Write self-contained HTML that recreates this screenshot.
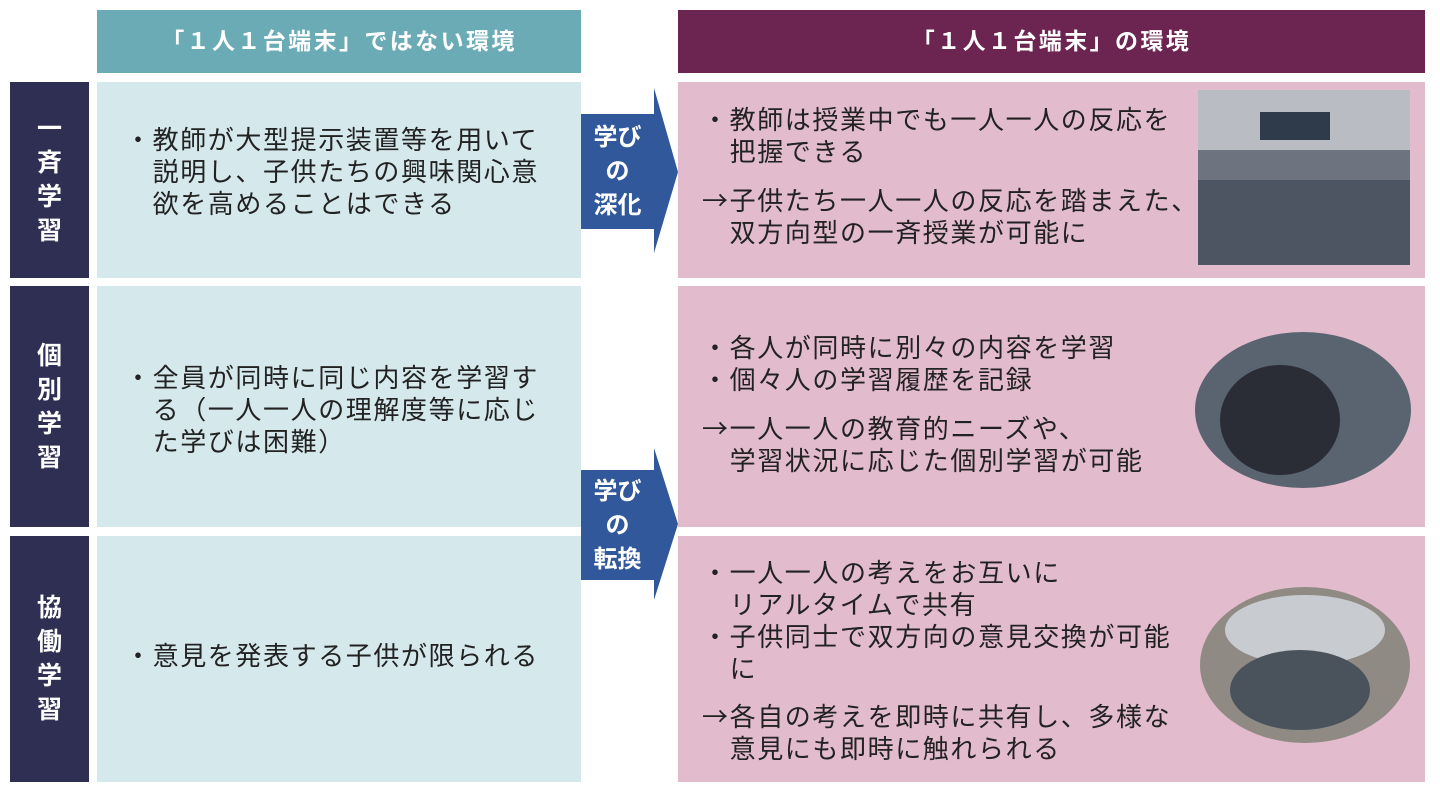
<!DOCTYPE html>
<html><head><meta charset="utf-8"><style>
body{margin:0;width:1440px;height:800px;background:#fff;position:relative;overflow:hidden;font-family:"Liberation Sans","Noto Sans CJK JP",sans-serif;}
div{position:absolute;box-sizing:border-box}
.hd{color:#fff;font-weight:bold;font-size:23px;letter-spacing:2.4px;text-align:center;line-height:63px;top:10px;height:63px}
.lab{left:10px;width:79px;background:#2e2f52;color:#fff;font-weight:bold;font-size:25px;line-height:34px;text-align:center;display:flex;align-items:center;justify-content:center}
.lb{left:97px;width:484px;background:#d5e8ec}
.pk{left:678px;width:747px;background:#e2bbcd}
.t{font-size:26px;letter-spacing:1.6px;line-height:32px;color:#222;white-space:nowrap}
.a{font-family:"Noto Sans CJK JP",sans-serif}
.ar{color:#fff;font-weight:bold;font-size:24px;line-height:34px;text-align:center;left:581px;width:73px}
</style></head><body>
<div class="hd" style="left:97px;width:484px;background:#6aabb6">「１人１台端末」ではない環境</div>
<div class="hd" style="left:678px;width:747px;background:#6b2550">「１人１台端末」の環境</div>

<div class="lab" style="top:82px;height:196px">一<br>斉<br>学<br>習</div>
<div class="lab" style="top:286px;height:241px">個<br>別<br>学<br>習</div>
<div class="lab" style="top:536px;height:246px">協<br>働<br>学<br>習</div>

<div class="lb" style="top:82px;height:196px"></div>
<div class="lb" style="top:286px;height:241px"></div>
<div class="lb" style="top:536px;height:246px"></div>
<div class="pk" style="top:82px;height:196px"></div>
<div class="pk" style="top:286px;height:241px"></div>
<div class="pk" style="top:536px;height:246px"></div>

<div class="t" style="left:125px;top:124px">・教師が大型提示装置等を用いて<br>　説明し、子供たちの興味関心意<br>　欲を高めることはできる</div>
<div class="t" style="left:125px;top:362px">・全員が同時に同じ内容を学習す<br>　る（一人一人の理解度等に応じ<br>　た学びは困難）</div>
<div class="t" style="left:125px;top:640px">・意見を発表する子供が限られる</div>

<div class="t" style="left:702px;top:104px">・教師は授業中でも一人一人の反応を<br>　把握できる</div>
<div class="t" style="left:702px;top:184px"><span class="a">→</span>子供たち一人一人の反応を踏まえた、<br>　双方向型の一斉授業が可能に</div>
<div class="t" style="left:702px;top:332px">・各人が同時に別々の内容を学習<br>・個々人の学習履歴を記録</div>
<div class="t" style="left:702px;top:412px"><span class="a">→</span>一人一人の教育的ニーズや、<br>　学習状況に応じた個別学習が可能</div>
<div class="t" style="left:702px;top:557px">・一人一人の考えをお互いに<br>　リアルタイムで共有<br>・子供同士で双方向の意見交換が可能<br>　に</div>
<div class="t" style="left:702px;top:700px"><span class="a">→</span>各自の考えを即時に共有し、多様な<br>　意見にも即時に触れられる</div>

<svg style="position:absolute;left:0;top:0" width="1440" height="800">
<polygon points="581,114 654,114 654,88 678,172 654,253 654,229 581,229" fill="#30589a"/>
<polygon points="581,470 654,470 654,448 678,524 654,600 654,580 581,580" fill="#30589a"/>
<rect x="1198" y="90" width="212" height="175" fill="#6d7480"/>
<rect x="1198" y="90" width="212" height="60" fill="#b9bcc2"/>
<rect x="1260" y="112" width="70" height="28" fill="#2f3b4a"/>
<rect x="1198" y="180" width="212" height="85" fill="#4d5563"/>
<ellipse cx="1303" cy="410" rx="108" ry="78" fill="#5a6470"/>
<ellipse cx="1280" cy="420" rx="60" ry="55" fill="#2a2d36"/>
<ellipse cx="1305" cy="665" rx="105" ry="78" fill="#8f8b84"/>
<ellipse cx="1305" cy="630" rx="80" ry="35" fill="#c8ccd0"/>
<ellipse cx="1300" cy="690" rx="70" ry="40" fill="#4a525c"/>
</svg>
<div class="ar" style="top:121px">学び<br>の<br>深化</div>
<div class="ar" style="top:475px">学び<br>の<br>転換</div>
</body></html>
